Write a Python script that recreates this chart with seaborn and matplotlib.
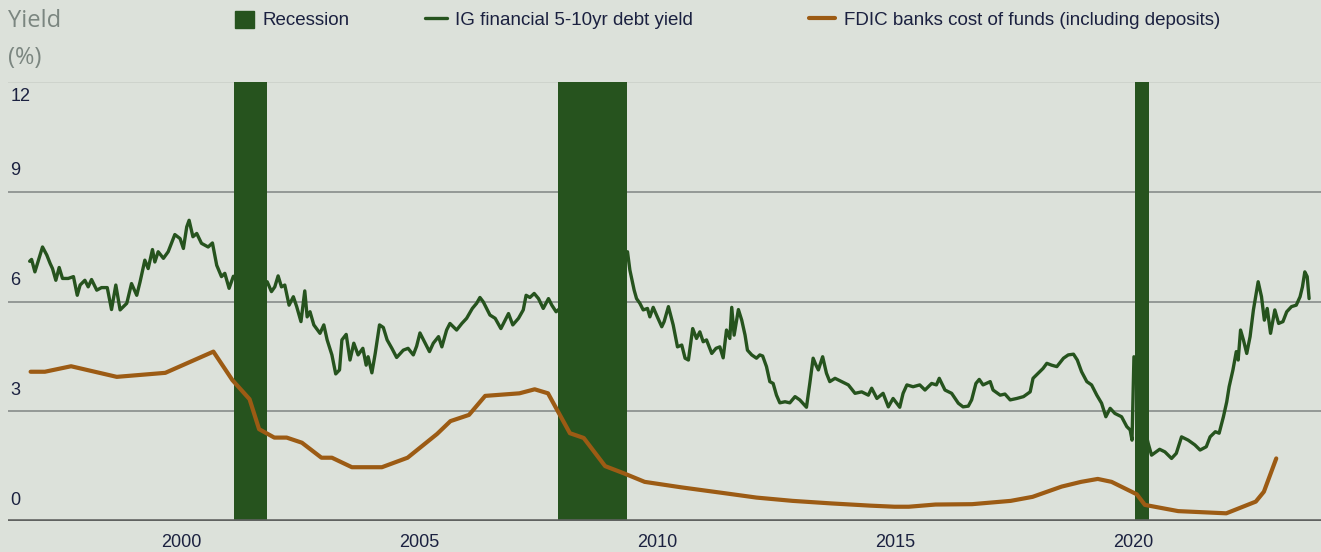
import matplotlib
matplotlib.use("Agg")
import matplotlib.pyplot as plt
import matplotlib.patches as mpatches
from matplotlib.lines import Line2D
import pandas as pd
import seaborn as sns

# ==========================================
# data (years as decimals, yields in %)
# ==========================================
rec_start = [2001.10, 2007.90, 2020.03]
rec_end = [2001.80, 2009.37, 2020.33]

ig_years = [
    1996.81, 1996.85, 1996.92, 1997.08, 1997.17, 1997.24, 1997.29, 1997.36, 1997.43, 1997.50,
    1997.62, 1997.73, 1997.81, 1997.87, 1997.97, 1998.04, 1998.11, 1998.22, 1998.32, 1998.44,
    1998.53, 1998.62, 1998.71, 1998.85, 1998.95, 1999.06, 1999.13, 1999.23, 1999.30, 1999.39,
    1999.44, 1999.51, 1999.62, 1999.72, 1999.86, 1999.97, 2000.04, 2000.11, 2000.16, 2000.24,
    2000.32, 2000.42, 2000.56, 2000.65, 2000.74, 2000.84, 2000.91, 2001.00, 2001.09, 2001.40,
    2001.80, 2001.89, 2001.96, 2002.03, 2002.10, 2002.17, 2002.26, 2002.35, 2002.42, 2002.51,
    2002.59, 2002.64, 2002.70, 2002.78, 2002.91, 2002.99, 2003.06, 2003.16, 2003.24, 2003.32,
    2003.37, 2003.46, 2003.54, 2003.62, 2003.71, 2003.81, 2003.88, 2003.92, 2004.00, 2004.07,
    2004.16, 2004.24, 2004.32, 2004.42, 2004.52, 2004.66, 2004.76, 2004.87, 2004.94, 2005.01,
    2005.12, 2005.21, 2005.29, 2005.40, 2005.47, 2005.57, 2005.64, 2005.78, 2005.89, 2005.99,
    2006.11, 2006.20, 2006.27, 2006.34, 2006.48, 2006.59, 2006.71, 2006.80, 2006.87, 2006.96,
    2007.08, 2007.18, 2007.24, 2007.32, 2007.41, 2007.50, 2007.60, 2007.71, 2007.78, 2007.87,
    2008.30, 2008.80, 2009.37, 2009.42, 2009.51, 2009.56, 2009.63, 2009.70, 2009.79, 2009.84,
    2009.91, 2010.00, 2010.09, 2010.14, 2010.23, 2010.33, 2010.42, 2010.51, 2010.58, 2010.65,
    2010.74, 2010.82, 2010.89, 2010.96, 2011.03, 2011.14, 2011.23, 2011.31, 2011.38, 2011.45,
    2011.52, 2011.56, 2011.61, 2011.70, 2011.77, 2011.84, 2011.89, 2011.98, 2012.08, 2012.15,
    2012.21, 2012.29, 2012.36, 2012.43, 2012.50, 2012.57, 2012.68, 2012.78, 2012.89, 2012.99,
    2013.13, 2013.20, 2013.27, 2013.33, 2013.38, 2013.47, 2013.55, 2013.62, 2013.73, 2013.87,
    2014.01, 2014.15, 2014.29, 2014.43, 2014.50, 2014.61, 2014.74, 2014.85, 2014.95, 2015.09,
    2015.16, 2015.24, 2015.37, 2015.51, 2015.62, 2015.76, 2015.86, 2015.92, 2016.04, 2016.18,
    2016.32, 2016.42, 2016.53, 2016.60, 2016.69, 2016.76, 2016.84, 2016.99, 2017.05, 2017.20,
    2017.30, 2017.41, 2017.55, 2017.69, 2017.83, 2017.89, 2018.00, 2018.10, 2018.18, 2018.28,
    2018.39, 2018.53, 2018.63, 2018.74, 2018.82, 2018.91, 2019.02, 2019.12, 2019.23, 2019.33,
    2019.42, 2019.51, 2019.61, 2019.75, 2019.86, 2019.93, 2019.97, 2020.01, 2020.15, 2020.31,
    2020.38, 2020.55, 2020.66, 2020.80, 2020.90, 2021.01, 2021.15, 2021.29, 2021.40, 2021.53,
    2021.61, 2021.72, 2021.80, 2021.89, 2021.96, 2022.01, 2022.09, 2022.16, 2022.20, 2022.25,
    2022.31, 2022.38, 2022.45, 2022.52, 2022.59, 2022.62, 2022.69, 2022.75, 2022.81, 2022.88,
    2022.97, 2023.05, 2023.14, 2023.22, 2023.32, 2023.42, 2023.50, 2023.55, 2023.60, 2023.65,
    2023.69,
]
ig_yield = [
    7.10, 7.15, 6.81, 7.49, 7.27, 7.04, 6.90, 6.58, 6.93, 6.63,
    6.63, 6.68, 6.17, 6.45, 6.58, 6.40, 6.60, 6.31, 6.38, 6.38,
    5.78, 6.45, 5.77, 5.95, 6.49, 6.17, 6.54, 7.13, 6.90, 7.42,
    7.08, 7.36, 7.18, 7.36, 7.83, 7.72, 7.45, 8.04, 8.22, 7.77,
    7.86, 7.59, 7.49, 7.60, 6.99, 6.68, 6.77, 6.36, 6.69, 6.50,
    6.54, 6.27, 6.40, 6.70, 6.40, 6.45, 5.90, 6.13, 5.86, 5.45,
    6.29, 5.58, 5.72, 5.36, 5.13, 5.36, 4.95, 4.54, 4.02, 4.13,
    4.95, 5.10, 4.40, 4.86, 4.54, 4.72, 4.26, 4.49, 4.05, 4.58,
    5.36, 5.29, 4.95, 4.72, 4.47, 4.67, 4.72, 4.54, 4.78, 5.14,
    4.86, 4.63, 4.86, 5.04, 4.76, 5.22, 5.40, 5.22, 5.40, 5.54,
    5.81, 5.95, 6.11, 5.99, 5.63, 5.54, 5.26, 5.49, 5.67, 5.36,
    5.54, 5.77, 6.17, 6.11, 6.22, 6.08, 5.81, 6.08, 5.90, 5.72,
    6.20, 7.00, 7.36, 6.86, 6.31, 6.08, 5.95, 5.77, 5.81, 5.58,
    5.84, 5.57, 5.31, 5.45, 5.86, 5.36, 4.76, 4.81, 4.45, 4.40,
    5.26, 4.99, 5.17, 4.90, 4.95, 4.58, 4.72, 4.76, 4.46, 5.22,
    4.99, 5.84, 5.08, 5.78, 5.49, 5.08, 4.67, 4.54, 4.45, 4.54,
    4.51, 4.22, 3.81, 3.76, 3.44, 3.23, 3.26, 3.23, 3.40, 3.31,
    3.11, 3.76, 4.45, 4.26, 4.13, 4.49, 4.04, 3.81, 3.90, 3.81,
    3.72, 3.49, 3.53, 3.44, 3.63, 3.35, 3.49, 3.12, 3.35, 3.11,
    3.49, 3.72, 3.67, 3.72, 3.58, 3.76, 3.72, 3.90, 3.58, 3.49,
    3.22, 3.12, 3.14, 3.31, 3.76, 3.87, 3.72, 3.81, 3.58, 3.44,
    3.47, 3.31, 3.35, 3.40, 3.53, 3.90, 4.04, 4.17, 4.31, 4.26,
    4.22, 4.45, 4.54, 4.56, 4.40, 4.08, 3.81, 3.72, 3.44, 3.22,
    2.85, 3.08, 2.94, 2.85, 2.58, 2.49, 2.21, 4.49, 3.00, 2.12,
    1.80, 1.96, 1.89, 1.71, 1.85, 2.30, 2.21, 2.08, 1.94, 2.03,
    2.30, 2.44, 2.40, 2.85, 3.26, 3.67, 4.13, 4.63, 4.40, 5.22,
    4.95, 4.58, 5.04, 5.77, 6.31, 6.54, 6.13, 5.49, 5.81, 5.13,
    5.77, 5.40, 5.45, 5.72, 5.86, 5.90, 6.13, 6.40, 6.81, 6.68,
    6.08,
]

fdic_years = [
    1996.83, 1997.13, 1997.68, 1998.64, 1999.66, 2000.67, 2001.07, 2001.43, 2001.63, 2001.95,
    2002.21, 2002.53, 2002.94, 2003.16, 2003.58, 2004.21, 2004.75, 2005.37, 2005.65, 2006.04,
    2006.38, 2007.10, 2007.42, 2007.70, 2008.16, 2008.45, 2008.90, 2009.30, 2009.73, 2010.50,
    2011.41, 2012.08, 2012.84, 2013.66, 2014.47, 2014.98, 2015.28, 2015.84, 2016.61, 2017.42,
    2017.88, 2018.49, 2018.90, 2019.25, 2019.54, 2020.07, 2020.24, 2020.94, 2021.95, 2022.57,
    2022.74, 2023.00,
]
fdic_cost = [
    4.08, 4.08, 4.23, 3.94, 4.05, 4.63, 3.85, 3.33, 2.51, 2.28,
    2.28, 2.14, 1.73, 1.73, 1.47, 1.47, 1.73, 2.38, 2.73, 2.90,
    3.42, 3.49, 3.60, 3.49, 2.40, 2.27, 1.50, 1.30, 1.07, 0.92,
    0.76, 0.64, 0.55, 0.48, 0.42, 0.39, 0.39, 0.45, 0.46, 0.55,
    0.66, 0.94, 1.07, 1.15, 1.07, 0.73, 0.44, 0.27, 0.21, 0.53,
    0.80, 1.71,
]

y_ticks = [0, 3, 6, 9, 12]
x_ticks = [2000, 2005, 2010, 2015, 2020]
x_labels = ["2000", "2005", "2010", "2015", "2020"]

rec_label = "Recession"
ig_label = "IG financial 5-10yr debt yield"
fdic_label = "FDIC banks cost of funds (including deposits)"

# ==========================================
# styling
# ==========================================
BG = "#dce1da"
DARK_GREEN = "#26531e"
ORANGE = "#9c5b14"
NAVY = "#1b2140"
GRID = "#8e9390"

sns.set_style("white", {"axes.facecolor": BG, "figure.facecolor": BG})
plt.rcParams["font.family"] = ["Liberation Sans", "DejaVu Sans"]

ig_df = pd.DataFrame({"year": ig_years, "yield": ig_yield})
fdic_df = pd.DataFrame({"year": fdic_years, "cost": fdic_cost})

fig = plt.figure(figsize=(13.21, 5.52), dpi=100)
ax = fig.add_axes([8 / 1321, 31 / 552, 1313 / 1321, 439 / 552])

ax.set_xlim(1996.355, 2023.94)
ax.set_ylim(0, 12)

# gridlines
for v in y_ticks[1:]:
    ax.axhline(v, color=GRID if v < 12 else "#cdd2cb", lw=1.3, zorder=1)
ax.axhline(0, color="#606260", lw=2.6, zorder=6)

# lines + recession bars
sns.lineplot(data=ig_df, x="year", y="yield", ax=ax, color=DARK_GREEN, lw=2.4,
             sort=False, estimator=None, zorder=3)
for s, e in zip(rec_start, rec_end):
    ax.axvspan(s, e, color=DARK_GREEN, lw=0, zorder=4)
sns.lineplot(data=fdic_df, x="year", y="cost", ax=ax, color=ORANGE, lw=3.0,
             sort=False, estimator=None, zorder=5)

for sp in ax.spines.values():
    sp.set_visible(False)
ax.set_xlabel("")
ax.set_ylabel("")
ax.set_yticks([])
ax.set_xticks(x_ticks)
ax.set_xticklabels(x_labels, fontsize=13, color=NAVY)
ax.tick_params(axis="x", length=0, pad=9.5)

# y tick labels sit just above their gridline (the 12 one just below)
for v in y_ticks:
    yy = v + 0.57 if v < 12 else v - 0.41
    ax.text(0.0018, yy, str(v), transform=ax.get_yaxis_transform(),
            ha="left", va="center", fontsize=13, color=NAVY)

fig.text(8 / 1321, 1 - 9 / 552, "Yield\n(%)", ha="left", va="top",
         fontsize=17, color="#7b8680", family=["Open Sans", "DejaVu Sans"], linespacing=1.7)

# legend, three pieces spaced like the original
leg_y = 1 - 20 / 552
fig.legend(handles=[mpatches.Patch(color=DARK_GREEN)], labels=[rec_label],
           loc="center left", bbox_to_anchor=(235 / 1321, leg_y), frameon=False,
           fontsize=13.5, labelcolor=NAVY, handlelength=1.02, handleheight=1.02,
           handletextpad=0.43, borderpad=0, borderaxespad=0)
fig.legend(handles=[Line2D([], [], color=DARK_GREEN, lw=2.4)], labels=[ig_label],
           loc="center left", bbox_to_anchor=(425 / 1321, leg_y), frameon=False,
           fontsize=13.5, labelcolor=NAVY, handlelength=1.18,
           handletextpad=0.43, borderpad=0, borderaxespad=0)
fig.legend(handles=[Line2D([], [], color=ORANGE, lw=3.0)], labels=[fdic_label],
           loc="center left", bbox_to_anchor=(809 / 1321, leg_y), frameon=False,
           fontsize=13.5, labelcolor=NAVY, handlelength=1.4,
           handletextpad=0.48, borderpad=0, borderaxespad=0)

fig.savefig("out.png", dpi=100, facecolor=BG)
